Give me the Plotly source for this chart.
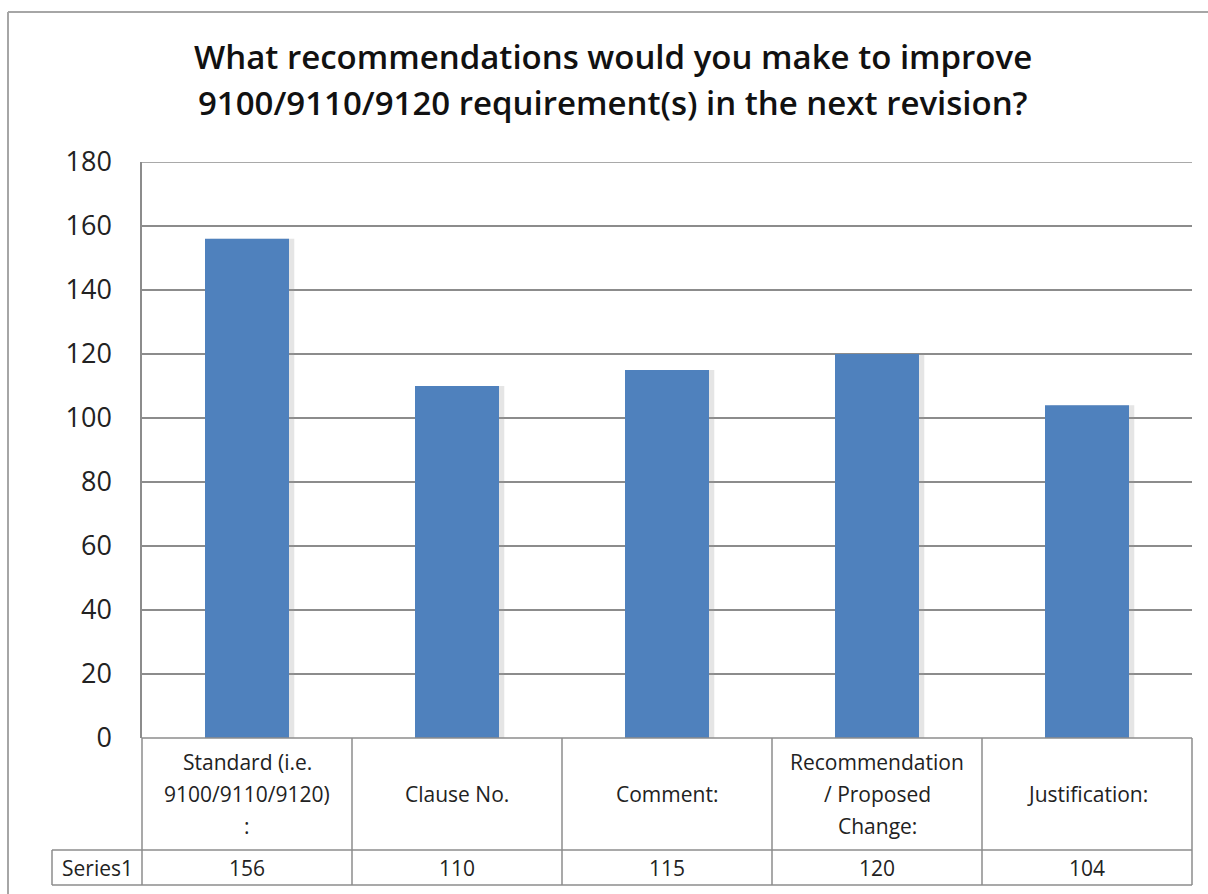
import plotly.graph_objects as go

# Survey responses per field of the requirement-change form
categories = [
    "Standard (i.e.<br>9100/9110/9120)<br>:",
    "Clause No.",
    "Comment:",
    "Recommendation<br>/ Proposed<br>Change:",
    "Justification:",
]
series_name = "Series1"
values = [156, 110, 115, 120, 104]
y_ticks = [0, 20, 40, 60, 80, 100, 120, 140, 160, 180]

title_lines = [
    "What recommendations would you make to improve",
    "9100/9110/9120 requirement(s) in the next revision?",
]

W, H = 1208, 894
L, R, T, B = 142, 16, 162, 156
PW, PH = W - L - R, H - T - B

FONT = "'Open Sans', Lato, sans-serif"
LINE = "#8c8c8c"
BAR = "#4F81BD"
TXT = "#222222"


def px(x):
    return (x - L) / PW


def py(y):
    return (H - B - y) / PH


n = len(categories)
xs = list(range(n))

fig = go.Figure()
# soft shadow behind each bar
fig.add_trace(go.Bar(
    x=[i + 0.025 for i in xs], y=values, width=0.4,
    marker=dict(color="rgba(150,150,150,0.25)", line=dict(width=0)),
    hoverinfo="skip", showlegend=False,
))
fig.add_trace(go.Bar(
    x=xs, y=values, width=0.4, name=series_name,
    marker=dict(color=BAR, line=dict(width=0)),
    showlegend=False,
))

shapes = []
# chart area frame (top and left edges visible)
shapes.append(dict(type="line", xref="paper", yref="paper",
                   x0=px(8), x1=px(1230), y0=py(12), y1=py(12),
                   line=dict(color="#a6a6a6", width=2)))
shapes.append(dict(type="line", xref="paper", yref="paper",
                   x0=px(8), x1=px(8), y0=py(12), y1=py(900),
                   line=dict(color="#a6a6a6", width=2)))
# gridline at the top of the value range
shapes.append(dict(type="line", xref="paper", yref="y",
                   x0=0, x1=1, y0=y_ticks[-1], y1=y_ticks[-1],
                   line=dict(color=LINE, width=1.5)))

# data table grid below the plot
row1_top, row1_bot, row2_bot = 738, 850, 885
col_edges = [L + i * PW / n for i in range(n + 1)]
shapes.append(dict(type="line", xref="paper", yref="paper",
                   x0=px(L), x1=px(L + PW), y0=py(row1_top), y1=py(row1_top),
                   line=dict(color=LINE, width=1.5)))
for yy in (row1_bot, row2_bot):
    shapes.append(dict(type="line", xref="paper", yref="paper",
                       x0=px(52), x1=px(L + PW), y0=py(yy), y1=py(yy),
                       line=dict(color=LINE, width=1.5)))
for xx in col_edges:
    shapes.append(dict(type="line", xref="paper", yref="paper",
                       x0=px(xx), x1=px(xx), y0=py(row1_top), y1=py(row2_bot),
                       line=dict(color=LINE, width=1.5)))
shapes.append(dict(type="line", xref="paper", yref="paper",
                   x0=px(52), x1=px(52), y0=py(row1_bot), y1=py(row2_bot),
                   line=dict(color=LINE, width=1.5)))

annotations = []
cell_font = dict(family=FONT, size=21, color=TXT)
line_step = 32
row1_mid = (row1_top + row1_bot) / 2
row2_mid = (row1_bot + row2_bot) / 2
for i, (cat, v) in enumerate(zip(categories, values)):
    cx = (col_edges[i] + col_edges[i + 1]) / 2
    parts = cat.split("<br>")
    first = row1_mid - (len(parts) - 1) * line_step / 2
    for k, part in enumerate(parts):
        annotations.append(dict(
            xref="paper", yref="paper", x=px(cx), y=py(first + k * line_step),
            text=part, showarrow=False, xanchor="center", yanchor="middle",
            font=cell_font,
        ))
    annotations.append(dict(
        xref="paper", yref="paper", x=px(cx), y=py(row2_mid),
        text=str(v), showarrow=False, xanchor="center", yanchor="middle",
        font=cell_font,
    ))
annotations.append(dict(
    xref="paper", yref="paper", x=px(97), y=py(row2_mid),
    text=series_name, showarrow=False, xanchor="center", yanchor="middle",
    font=cell_font,
))

# two-line chart title
for k, line in enumerate(title_lines):
    annotations.append(dict(
        xref="paper", yref="paper", x=px(613), y=py(57 + k * 46),
        text=line, showarrow=False, xanchor="center", yanchor="middle",
        font=dict(family=FONT, size=33, color="#111", weight=600),
    ))

fig.update_layout(
    width=W, height=H,
    margin=dict(l=L, r=R, t=T, b=B),
    paper_bgcolor="white", plot_bgcolor="white",
    barmode="overlay",
    xaxis=dict(range=[-0.5, n - 0.5], showticklabels=False, showgrid=False,
               zeroline=False, showline=False, fixedrange=True),
    yaxis=dict(range=[0, 180], tickvals=y_ticks, showgrid=True,
               gridcolor=LINE, gridwidth=1.5, zeroline=False,
               showline=True, linecolor=LINE, linewidth=1.5,
               ticks="", ticklabelstandoff=23,
               tickfont=dict(family=FONT, size=27, color=TXT)),
    shapes=shapes, annotations=annotations,
)

fig.write_html("out.html")
